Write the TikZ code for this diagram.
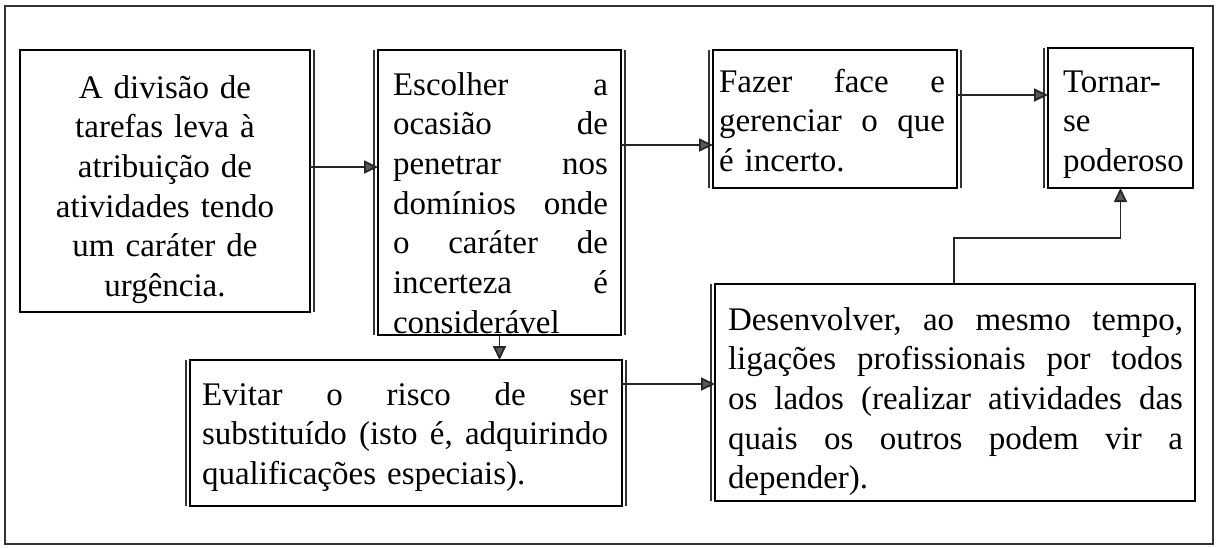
\documentclass[tikz,border=0pt]{standalone}
\usepackage{fontspec}
\setmainfont{Liberation Serif}
\usetikzlibrary{arrows.meta}
\begin{document}
\begin{tikzpicture}[x=1pt,y=-1pt,
  box/.style={draw=black, line width=2.8pt, inner sep=0pt, outer sep=0pt},
  txt/.style={inner sep=0pt, outer sep=0pt, font=\fontsize{33}{39.7}\selectfont},
  dbl/.style={line width=1.1pt, black!80},
  conn/.style={line width=1.8pt, black!85, -{Triangle[length=14pt,width=13pt,fill=black!65]}},
  frame/.style={line width=1.3pt, black!80}]
\useasboundingbox (0,0) rectangle (1219,547);
\draw[frame] (5,6) rectangle (1213,544);

% boxes
\node[box, minimum width=290pt, minimum height=262pt] (b1) at (165,181) {};
\node[box, minimum width=243pt, minimum height=285pt] (b2) at (499.5,192.5) {};
\node[box, minimum width=244pt, minimum height=138pt] (b3) at (835,119) {};
\node[box, minimum width=145pt, minimum height=140pt] (b4) at (1120.5,118) {};
\node[box, minimum width=432pt, minimum height=146pt] (b5) at (406,433) {};
\node[box, minimum width=480pt, minimum height=217pt] (b6) at (955,392.5) {};

% double side lines
\draw[dbl] ([xshift=4pt]b1.north east) -- ([xshift=4pt]b1.south east);
\draw[dbl] ([xshift=-4pt]b2.north west) -- ([xshift=-4pt]b2.south west);
\draw[dbl] ([xshift=4pt]b2.north east) -- ([xshift=4pt]b2.south east);
\draw[dbl] ([xshift=-4pt]b3.north west) -- ([xshift=-4pt]b3.south west);
\draw[dbl] ([xshift=4pt]b3.north east) -- ([xshift=4pt]b3.south east);
\draw[dbl] ([xshift=-4pt]b4.north west) -- ([xshift=-4pt]b4.south west);
\draw[dbl] ([xshift=-4pt]b5.north west) -- ([xshift=-4pt]b5.south west);
\draw[dbl] ([xshift=4pt]b5.north east) -- ([xshift=4pt]b5.south east);
\draw[dbl] ([xshift=-4pt]b6.north west) -- ([xshift=-4pt]b6.south west);

% texts
\node[txt, text width=280pt, align=center, anchor=base] (t1) at (165,98)
  {A divisão de\\tarefas leva à\\atribuição de\\atividades tendo\\um caráter de\\urgência.};
\node[txt, text width=215pt, align=left, anchor=base west] (t2) at (393,95)
  {Escolher\hfill a\\ocasião\hfill de\\penetrar\hfill nos\\domínios\hfill onde\\o\hfill caráter\hfill de\\incerteza\hfill é\\considerável};
\node[txt, text width=226pt, align=left, anchor=base west] (t3) at (719,92)
  {Fazer\hfill face\hfill e\\gerenciar\hfill o\hfill que\\é incerto.};
\node[txt, text width=125pt, align=left, anchor=base west] (t4) at (1063,92)
  {Tornar-\\se\\poderoso};
\node[txt, text width=406pt, align=left, anchor=base west] (t5) at (202,405)
  {Evitar\hfill o\hfill risco\hfill de\hfill ser\\substituído\hfill (isto\hfill é,\hfill adquirindo\\qualificações especiais).};
\node[txt, text width=455pt, align=left, anchor=base west] (t6) at (728,330)
  {Desenvolver,\hfill ao\hfill mesmo\hfill tempo,\\ligações\hfill profissionais\hfill por\hfill todos\\os\hfill lados\hfill (realizar\hfill atividades\hfill das\\quais\hfill os\hfill outros\hfill podem\hfill vir\hfill a\\depender).};

% connectors
\coordinate (y1) at (0,167);
\coordinate (y2) at (0,145);
\coordinate (y3) at (0,95);
\coordinate (y5) at (0,384);
\coordinate (j) at (954,238);
\draw[conn] (b1.east |- y1) -- (b2.west |- y1);
\draw[conn] (b2.east |- y2) -- (b3.west |- y2);
\draw[conn] (b3.east |- y3) -- (b4.west |- y3);
\draw[conn] (b2.south) -- (b2.south |- b5.north);
\draw[conn] (b5.east |- y5) -- (b6.west |- y5);
\draw[conn] (b6.north -| j) -- (j) -| (b4.south);
\end{tikzpicture}
\end{document}
